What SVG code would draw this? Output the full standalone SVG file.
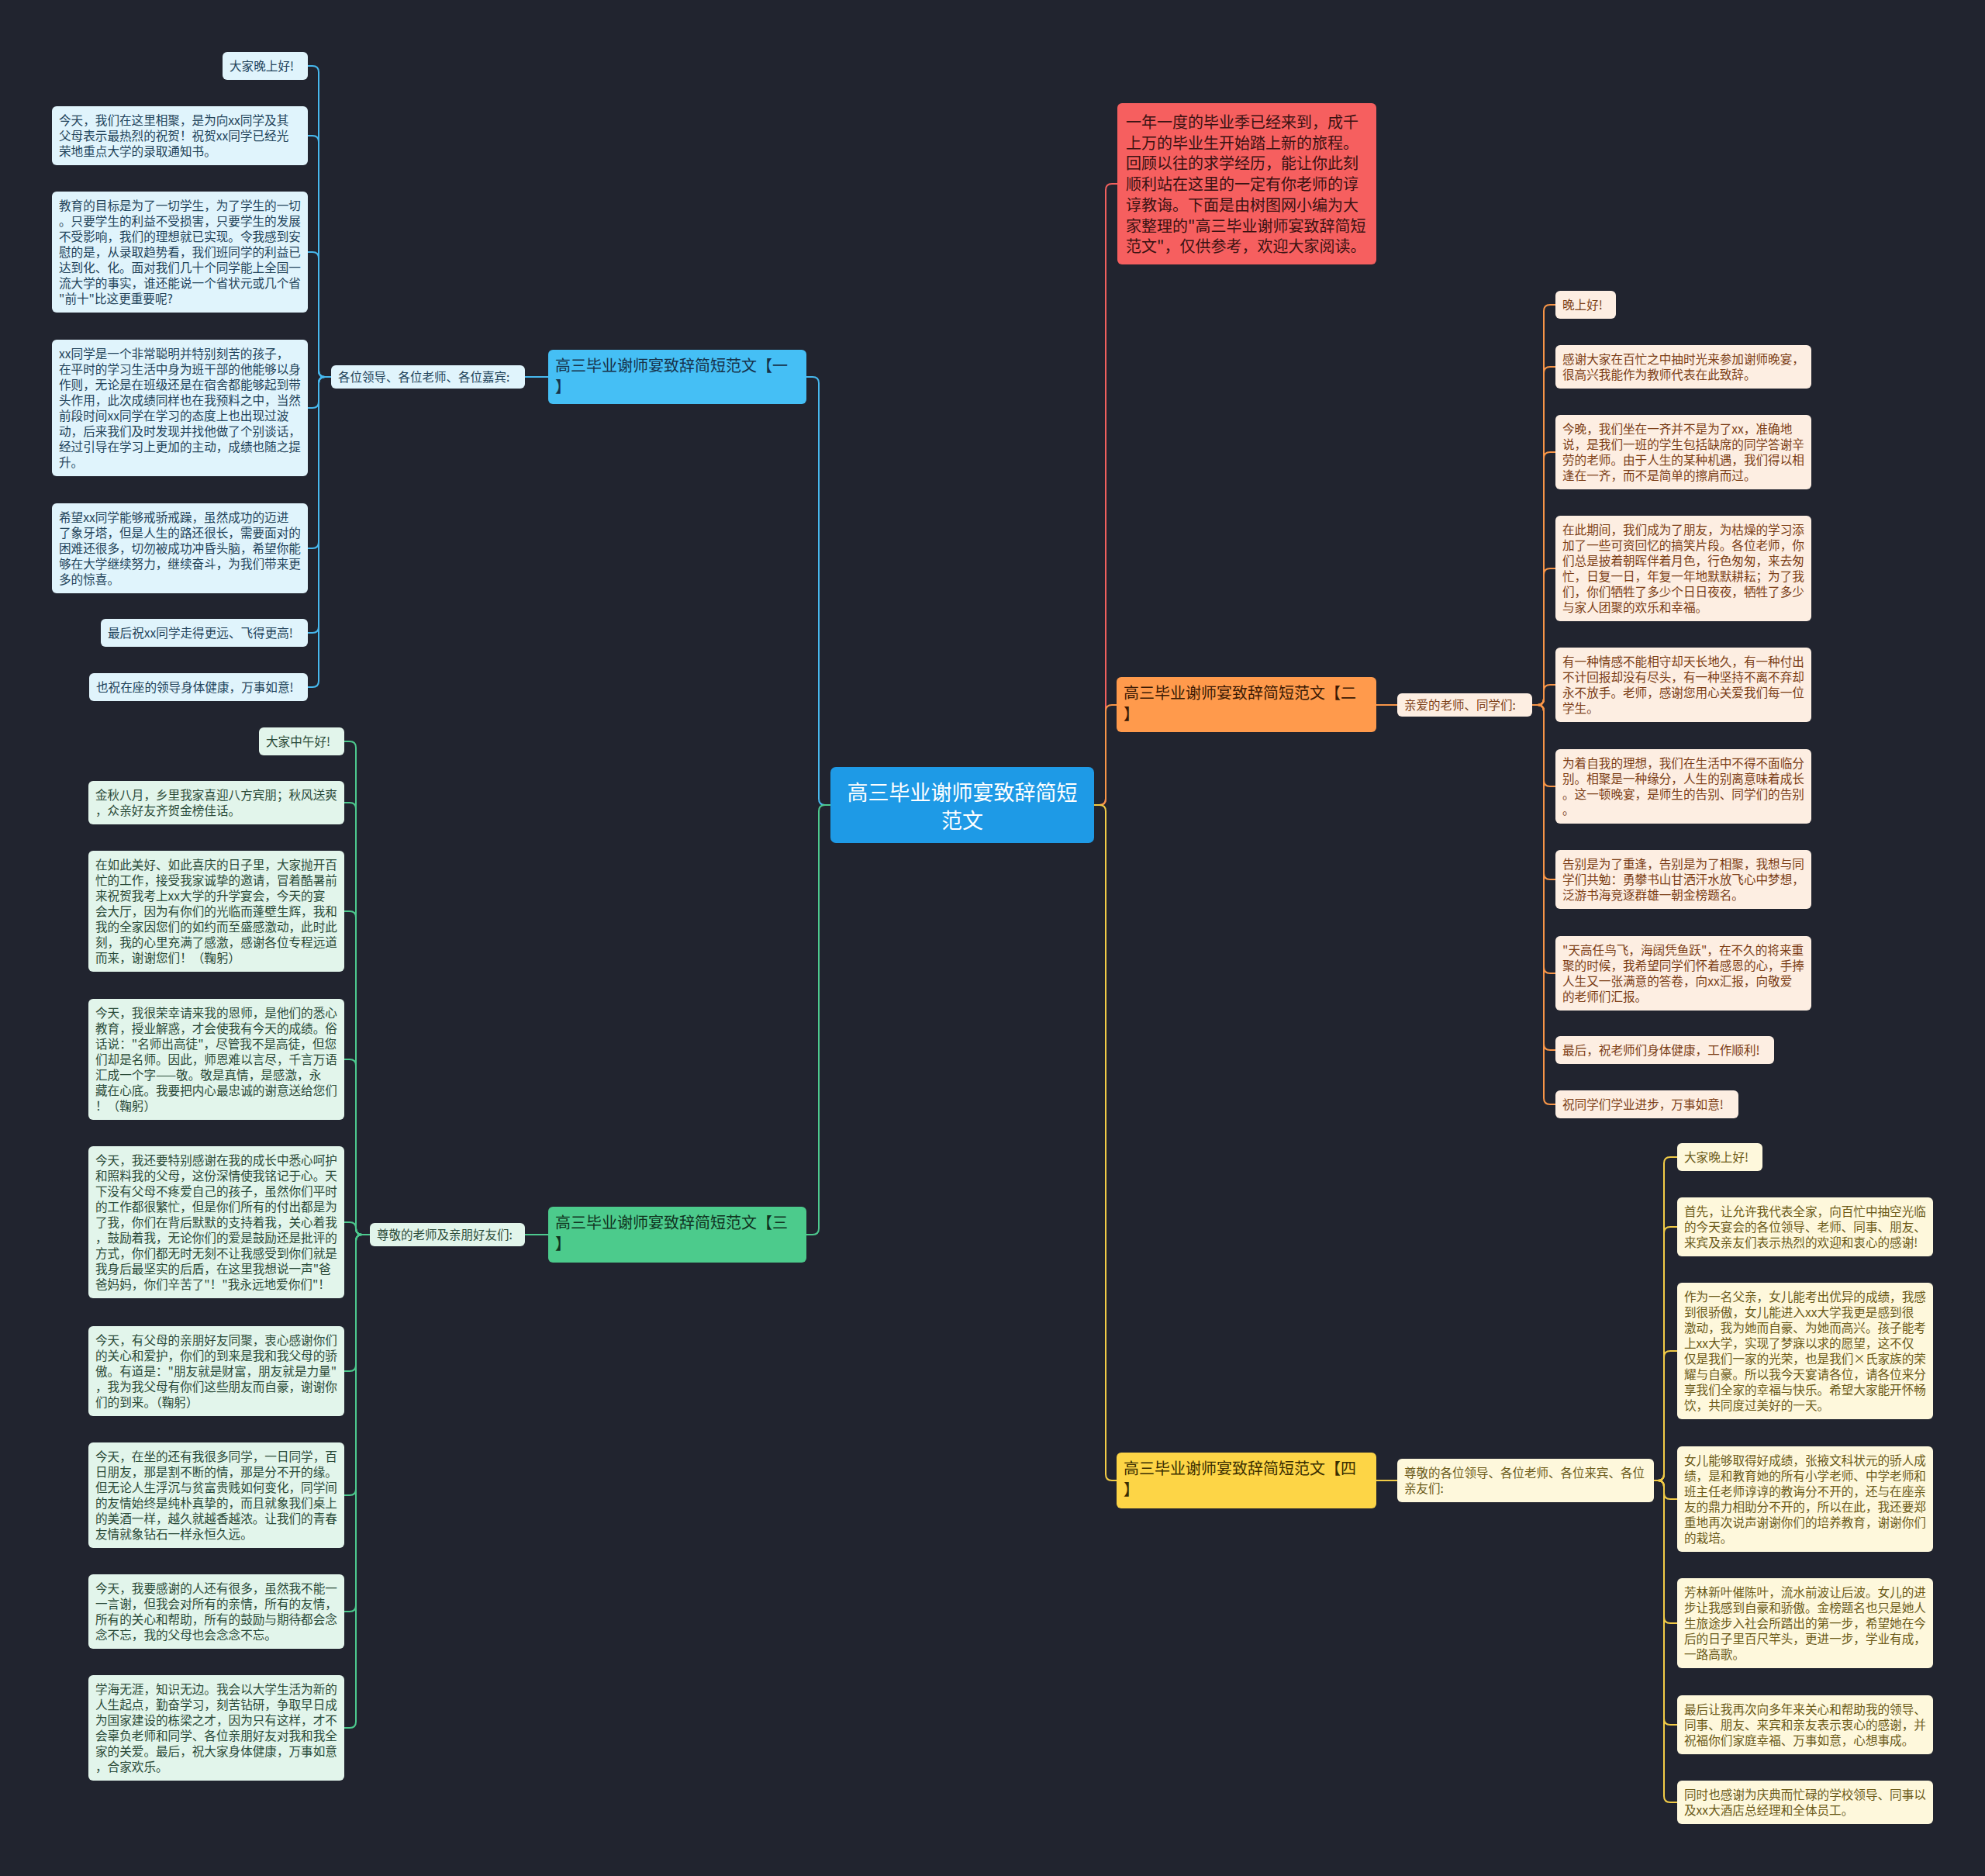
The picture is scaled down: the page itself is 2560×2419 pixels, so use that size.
<svg xmlns="http://www.w3.org/2000/svg" width="2560" height="2419" viewBox="0 0 2560 2419">
<style>
text{font-family:"Noto Sans CJK SC","Liberation Sans",sans-serif}
.lf{font-size:15.6px}
.lb{font-size:15.5px}
.bn{font-size:20px}
.cB{stroke:#47b8ee}.cG{stroke:#4dc98e}.cO{stroke:#f79548}.cY{stroke:#f2cc47}.cR{stroke:#f0605e}
path{fill:none;stroke-width:2}
.fB{fill:#e0f4fc}.tB{fill:#22435a}
.fG{fill:#e2f5eb}.tG{fill:#2a4a38}
.fO{fill:#fdeee2}.tO{fill:#7b3d15}
.fY{fill:#fef8dc}.tY{fill:#6b5a18}
</style>
<rect width="2560" height="2419" fill="#21242f"/>
<g id="connectors">
<path class="cB" d="M1071,1038 H1064 Q1056,1038 1056,1030 V494 Q1056,486 1048,486 H1040"/>
<path class="cG" d="M1071,1038 H1064 Q1056,1038 1056,1046 V1584 Q1056,1592 1048,1592 H1040"/>
<path class="cR" d="M1411,1038 H1418 Q1426,1038 1426,1030 V245 Q1426,237 1434,237 H1441"/>
<path class="cO" d="M1411,1038 H1418 Q1426,1038 1426,1030 V917 Q1426,909 1434,909 H1440"/>
<path class="cY" d="M1411,1038 H1418 Q1426,1038 1426,1046 V1901 Q1426,1909 1434,1909 H1440"/>
<path class="cB" d="M707,486 H677"/>
<path class="cG" d="M707,1592 H677"/>
<path class="cO" d="M1775,909 H1802"/>
<path class="cY" d="M1775,1909 H1802"/>
<path class="cB" d="M427,486 H419 Q411,486 411,478 V93 Q411,85 403,85 H397"/>
<path class="cB" d="M427,486 H419 Q411,486 411,478 V183 Q411,175 403,175 H397"/>
<path class="cB" d="M427,486 H419 Q411,486 411,478 V333 Q411,325 403,325 H397"/>
<path class="cB" d="M427,486 H419 Q411,486 411,494 V518 Q411,526 403,526 H397"/>
<path class="cB" d="M427,486 H419 Q411,486 411,494 V699 Q411,707 403,707 H397"/>
<path class="cB" d="M427,486 H419 Q411,486 411,494 V808 Q411,816 403,816 H397"/>
<path class="cB" d="M427,486 H419 Q411,486 411,494 V878 Q411,886 403,886 H397"/>
<path class="cG" d="M477,1592 H467 Q459,1592 459,1584 V964 Q459,956 451,956 H444"/>
<path class="cG" d="M477,1592 H467 Q459,1592 459,1584 V1043 Q459,1035 451,1035 H444"/>
<path class="cG" d="M477,1592 H467 Q459,1592 459,1584 V1183 Q459,1175 451,1175 H444"/>
<path class="cG" d="M477,1592 H467 Q459,1592 459,1584 V1374 Q459,1366 451,1366 H444"/>
<path class="cG" d="M477,1592 H467 Q459,1592 459,1584 Q459,1576 451,1576 H444"/>
<path class="cG" d="M477,1592 H467 Q459,1592 459,1600 V1760 Q459,1768 451,1768 H444"/>
<path class="cG" d="M477,1592 H467 Q459,1592 459,1600 V1920 Q459,1928 451,1928 H444"/>
<path class="cG" d="M477,1592 H467 Q459,1592 459,1600 V2070 Q459,2078 451,2078 H444"/>
<path class="cG" d="M477,1592 H467 Q459,1592 459,1600 V2220 Q459,2228 451,2228 H444"/>
<path class="cO" d="M1976,909 H1983 Q1991,909 1991,901 V401 Q1991,393 1999,393 H2006"/>
<path class="cO" d="M1976,909 H1983 Q1991,909 1991,901 V481 Q1991,473 1999,473 H2006"/>
<path class="cO" d="M1976,909 H1983 Q1991,909 1991,901 V591 Q1991,583 1999,583 H2006"/>
<path class="cO" d="M1976,909 H1983 Q1991,909 1991,901 V741 Q1991,733 1999,733 H2006"/>
<path class="cO" d="M1976,909 H1983 Q1991,909 1991,901 V891 Q1991,883 1999,883 H2006"/>
<path class="cO" d="M1976,909 H1983 Q1991,909 1991,917 V1006 Q1991,1014 1999,1014 H2006"/>
<path class="cO" d="M1976,909 H1983 Q1991,909 1991,917 V1126 Q1991,1134 1999,1134 H2006"/>
<path class="cO" d="M1976,909 H1983 Q1991,909 1991,917 V1247 Q1991,1255 1999,1255 H2006"/>
<path class="cO" d="M1976,909 H1983 Q1991,909 1991,917 V1346 Q1991,1354 1999,1354 H2006"/>
<path class="cO" d="M1976,909 H1983 Q1991,909 1991,917 V1416 Q1991,1424 1999,1424 H2006"/>
<path class="cY" d="M2133,1909 H2138 Q2146,1909 2146,1901 V1500 Q2146,1492 2154,1492 H2163"/>
<path class="cY" d="M2133,1909 H2138 Q2146,1909 2146,1901 V1590 Q2146,1582 2154,1582 H2163"/>
<path class="cY" d="M2133,1909 H2138 Q2146,1909 2146,1901 V1750 Q2146,1742 2154,1742 H2163"/>
<path class="cY" d="M2133,1909 H2138 Q2146,1909 2146,1917 V1925 Q2146,1933 2154,1933 H2163"/>
<path class="cY" d="M2133,1909 H2138 Q2146,1909 2146,1917 V2085 Q2146,2093 2154,2093 H2163"/>
<path class="cY" d="M2133,1909 H2138 Q2146,1909 2146,1917 V2216 Q2146,2224 2154,2224 H2163"/>
<path class="cY" d="M2133,1909 H2138 Q2146,1909 2146,1917 V2316 Q2146,2324 2154,2324 H2163"/>
</g>

<g id="center">
<rect x="1071" y="989" width="340" height="98" rx="7" fill="#1e9ae6"/>
<text x="1241" y="1031.5" font-size="27" fill="#ffffff" text-anchor="middle">高三毕业谢师宴致辞简短</text>
<text x="1241" y="1067.5" font-size="27" fill="#ffffff" text-anchor="middle">范文</text>
</g>

<g id="intro">
<rect x="1441" y="133" width="334" height="208" rx="6" fill="#f65f5f"/>
<text class="bn" fill="#3a1212"><tspan x="1452" y="165">一年一度的毕业季已经来到，成千</tspan><tspan x="1452" y="191.7">上万的毕业生开始踏上新的旅程。</tspan><tspan x="1452" y="218.4">回顾以往的求学经历，能让你此刻</tspan><tspan x="1452" y="245.1">顺利站在这里的一定有你老师的谆</tspan><tspan x="1452" y="271.8">谆教诲。下面是由树图网小编为大</tspan><tspan x="1452" y="298.5">家整理的"高三毕业谢师宴致辞简短</tspan><tspan x="1452" y="325.2">范文"，仅供参考，欢迎大家阅读。</tspan></text>
</g>

<g id="branch1">
<rect x="707" y="451" width="333" height="70" rx="6" fill="#45bff5"/>
<text class="bn" fill="#16324a"><tspan x="716" y="479">高三毕业谢师宴致辞简短范文【一</tspan><tspan x="716" y="506">】</tspan></text>
</g>
<g id="label1">
<rect x="427" y="471" width="250" height="30" rx="6" class="fB"/>
<text class="lb tB" x="436" y="491.5">各位领导、各位老师、各位嘉宾:</text>
</g>
<g id="b1-leaf1"><rect x="287" y="67" width="110" height="36" rx="6" class="fB"/><text class="lf tB" x="296" y="90.5">大家晚上好!</text></g>
<g id="b1-leaf2"><rect x="67" y="137" width="330" height="76" rx="6" class="fB"/><text class="lf tB"><tspan x="76" y="160.5">今天，我们在这里相聚，是为向xx同学及其</tspan><tspan x="76" y="180.5">父母表示最热烈的祝贺！祝贺xx同学已经光</tspan><tspan x="76" y="200.5">荣地重点大学的录取通知书。</tspan></text></g>
<g id="b1-leaf3"><rect x="67" y="247" width="330" height="156" rx="6" class="fB"/><text class="lf tB"><tspan x="76" y="270.5">教育的目标是为了一切学生，为了学生的一切</tspan><tspan x="76" y="290.5">。只要学生的利益不受损害，只要学生的发展</tspan><tspan x="76" y="310.5">不受影响，我们的理想就已实现。令我感到安</tspan><tspan x="76" y="330.5">慰的是，从录取趋势看，我们班同学的利益已</tspan><tspan x="76" y="350.5">达到化、化。面对我们几十个同学能上全国一</tspan><tspan x="76" y="370.5">流大学的事实，谁还能说一个省状元或几个省</tspan><tspan x="76" y="390.5">"前十"比这更重要呢?</tspan></text></g>
<g id="b1-leaf4"><rect x="67" y="438" width="330" height="176" rx="6" class="fB"/><text class="lf tB"><tspan x="76" y="461.5">xx同学是一个非常聪明并特别刻苦的孩子，</tspan><tspan x="76" y="481.5">在平时的学习生活中身为班干部的他能够以身</tspan><tspan x="76" y="501.5">作则，无论是在班级还是在宿舍都能够起到带</tspan><tspan x="76" y="521.5">头作用，此次成绩同样也在我预料之中，当然</tspan><tspan x="76" y="541.5">前段时间xx同学在学习的态度上也出现过波</tspan><tspan x="76" y="561.5">动，后来我们及时发现并找他做了个别谈话，</tspan><tspan x="76" y="581.5">经过引导在学习上更加的主动，成绩也随之提</tspan><tspan x="76" y="601.5">升。</tspan></text></g>
<g id="b1-leaf5"><rect x="67" y="649" width="330" height="116" rx="6" class="fB"/><text class="lf tB"><tspan x="76" y="672.5">希望xx同学能够戒骄戒躁，虽然成功的迈进</tspan><tspan x="76" y="692.5">了象牙塔，但是人生的路还很长，需要面对的</tspan><tspan x="76" y="712.5">困难还很多，切勿被成功冲昏头脑，希望你能</tspan><tspan x="76" y="732.5">够在大学继续努力，继续奋斗，为我们带来更</tspan><tspan x="76" y="752.5">多的惊喜。</tspan></text></g>
<g id="b1-leaf6"><rect x="130" y="798" width="267" height="36" rx="6" class="fB"/><text class="lf tB" x="139" y="821.5">最后祝xx同学走得更远、飞得更高!</text></g>
<g id="b1-leaf7"><rect x="115" y="868" width="282" height="36" rx="6" class="fB"/><text class="lf tB" x="124" y="891.5">也祝在座的领导身体健康，万事如意!</text></g>

<g id="branch3">
<rect x="707" y="1556" width="333" height="72" rx="6" fill="#4ccb8c"/>
<text class="bn" fill="#10331f"><tspan x="716" y="1584">高三毕业谢师宴致辞简短范文【三</tspan><tspan x="716" y="1611">】</tspan></text>
</g>
<g id="label3">
<rect x="477" y="1577" width="200" height="30" rx="6" class="fG"/>
<text class="lb tG" x="486" y="1597.5">尊敬的老师及亲朋好友们:</text>
</g>
<g id="b3-leaf1"><rect x="334" y="938" width="110" height="36" rx="6" class="fG"/><text class="lf tG" x="343" y="961.5">大家中午好!</text></g>
<g id="b3-leaf2"><rect x="114" y="1007" width="330" height="56" rx="6" class="fG"/><text class="lf tG"><tspan x="123" y="1030.5">金秋八月，乡里我家喜迎八方宾朋；秋风送爽</tspan><tspan x="123" y="1050.5">，众亲好友齐贺金榜佳话。</tspan></text></g>
<g id="b3-leaf3"><rect x="114" y="1097" width="330" height="156" rx="6" class="fG"/><text class="lf tG"><tspan x="123" y="1120.5">在如此美好、如此喜庆的日子里，大家抛开百</tspan><tspan x="123" y="1140.5">忙的工作，接受我家诚挚的邀请，冒着酷暑前</tspan><tspan x="123" y="1160.5">来祝贺我考上xx大学的升学宴会，今天的宴</tspan><tspan x="123" y="1180.5">会大厅，因为有你们的光临而蓬壁生辉，我和</tspan><tspan x="123" y="1200.5">我的全家因您们的如约而至盛感激动，此时此</tspan><tspan x="123" y="1220.5">刻，我的心里充满了感激，感谢各位专程远道</tspan><tspan x="123" y="1240.5">而来，谢谢您们！（鞠躬）</tspan></text></g>
<g id="b3-leaf4"><rect x="114" y="1288" width="330" height="156" rx="6" class="fG"/><text class="lf tG"><tspan x="123" y="1311.5">今天，我很荣幸请来我的恩师，是他们的悉心</tspan><tspan x="123" y="1331.5">教育，授业解惑，才会使我有今天的成绩。俗</tspan><tspan x="123" y="1351.5">话说："名师出高徒"，尽管我不是高徒，但您</tspan><tspan x="123" y="1371.5">们却是名师。因此，师恩难以言尽，千言万语</tspan><tspan x="123" y="1391.5">汇成一个字——敬。敬是真情，是感激，永</tspan><tspan x="123" y="1411.5">藏在心底。我要把内心最忠诚的谢意送给您们</tspan><tspan x="123" y="1431.5">！（鞠躬）</tspan></text></g>
<g id="b3-leaf5"><rect x="114" y="1478" width="330" height="196" rx="6" class="fG"/><text class="lf tG"><tspan x="123" y="1501.5">今天，我还要特别感谢在我的成长中悉心呵护</tspan><tspan x="123" y="1521.5">和照料我的父母，这份深情使我铭记于心。天</tspan><tspan x="123" y="1541.5">下没有父母不疼爱自己的孩子，虽然你们平时</tspan><tspan x="123" y="1561.5">的工作都很繁忙，但是你们所有的付出都是为</tspan><tspan x="123" y="1581.5">了我，你们在背后默默的支持着我，关心着我</tspan><tspan x="123" y="1601.5">，鼓励着我，无论你们的爱是鼓励还是批评的</tspan><tspan x="123" y="1621.5">方式，你们都无时无刻不让我感受到你们就是</tspan><tspan x="123" y="1641.5">我身后最坚实的后盾，在这里我想说一声"爸</tspan><tspan x="123" y="1661.5">爸妈妈，你们辛苦了"！"我永远地爱你们"！</tspan></text></g>
<g id="b3-leaf6"><rect x="114" y="1710" width="330" height="116" rx="6" class="fG"/><text class="lf tG"><tspan x="123" y="1733.5">今天，有父母的亲朋好友同聚，衷心感谢你们</tspan><tspan x="123" y="1753.5">的关心和爱护，你们的到来是我和我父母的骄</tspan><tspan x="123" y="1773.5">傲。有道是："朋友就是财富，朋友就是力量"</tspan><tspan x="123" y="1793.5">，我为我父母有你们这些朋友而自豪，谢谢你</tspan><tspan x="123" y="1813.5">们的到来。（鞠躬）</tspan></text></g>
<g id="b3-leaf7"><rect x="114" y="1860" width="330" height="136" rx="6" class="fG"/><text class="lf tG"><tspan x="123" y="1883.5">今天，在坐的还有我很多同学，一日同学，百</tspan><tspan x="123" y="1903.5">日朋友，那是割不断的情，那是分不开的缘。</tspan><tspan x="123" y="1923.5">但无论人生浮沉与贫富贵贱如何变化，同学间</tspan><tspan x="123" y="1943.5">的友情始终是纯朴真挚的，而且就象我们桌上</tspan><tspan x="123" y="1963.5">的美酒一样，越久就越香越浓。让我们的青春</tspan><tspan x="123" y="1983.5">友情就象钻石一样永恒久远。</tspan></text></g>
<g id="b3-leaf8"><rect x="114" y="2030" width="330" height="96" rx="6" class="fG"/><text class="lf tG"><tspan x="123" y="2053.5">今天，我要感谢的人还有很多，虽然我不能一</tspan><tspan x="123" y="2073.5">一言谢，但我会对所有的亲情，所有的友情，</tspan><tspan x="123" y="2093.5">所有的关心和帮助，所有的鼓励与期待都会念</tspan><tspan x="123" y="2113.5">念不忘，我的父母也会念念不忘。</tspan></text></g>
<g id="b3-leaf9"><rect x="114" y="2160" width="330" height="136" rx="6" class="fG"/><text class="lf tG"><tspan x="123" y="2183.5">学海无涯，知识无边。我会以大学生活为新的</tspan><tspan x="123" y="2203.5">人生起点，勤奋学习，刻苦钻研，争取早日成</tspan><tspan x="123" y="2223.5">为国家建设的栋梁之才，因为只有这样，才不</tspan><tspan x="123" y="2243.5">会辜负老师和同学、各位亲朋好友对我和我全</tspan><tspan x="123" y="2263.5">家的关爱。最后，祝大家身体健康，万事如意</tspan><tspan x="123" y="2283.5">，合家欢乐。</tspan></text></g>

<g id="branch2">
<rect x="1440" y="873" width="335" height="71" rx="6" fill="#ff9a4c"/>
<text class="bn" fill="#3b1a04"><tspan x="1449" y="901">高三毕业谢师宴致辞简短范文【二</tspan><tspan x="1449" y="928">】</tspan></text>
</g>
<g id="label2">
<rect x="1802" y="894" width="174" height="30" rx="6" class="fO"/>
<text class="lb tO" x="1811" y="914.5">亲爱的老师、同学们:</text>
</g>
<g id="b2-leaf1"><rect x="2006" y="375" width="78" height="36" rx="6" class="fO"/><text class="lf tO" x="2015" y="398.5">晚上好!</text></g>
<g id="b2-leaf2"><rect x="2006" y="445" width="330" height="56" rx="6" class="fO"/><text class="lf tO"><tspan x="2015" y="468.5">感谢大家在百忙之中抽时光来参加谢师晚宴，</tspan><tspan x="2015" y="488.5">很高兴我能作为教师代表在此致辞。</tspan></text></g>
<g id="b2-leaf3"><rect x="2006" y="535" width="330" height="96" rx="6" class="fO"/><text class="lf tO"><tspan x="2015" y="558.5">今晚，我们坐在一齐并不是为了xx，准确地</tspan><tspan x="2015" y="578.5">说，是我们一班的学生包括缺席的同学答谢辛</tspan><tspan x="2015" y="598.5">劳的老师。由于人生的某种机遇，我们得以相</tspan><tspan x="2015" y="618.5">逢在一齐，而不是简单的擦肩而过。</tspan></text></g>
<g id="b2-leaf4"><rect x="2006" y="665" width="330" height="136" rx="6" class="fO"/><text class="lf tO"><tspan x="2015" y="688.5">在此期间，我们成为了朋友，为枯燥的学习添</tspan><tspan x="2015" y="708.5">加了一些可资回忆的搞笑片段。各位老师，你</tspan><tspan x="2015" y="728.5">们总是披着朝晖伴着月色，行色匆匆，来去匆</tspan><tspan x="2015" y="748.5">忙，日复一日，年复一年地默默耕耘；为了我</tspan><tspan x="2015" y="768.5">们，你们牺牲了多少个日日夜夜，牺牲了多少</tspan><tspan x="2015" y="788.5">与家人团聚的欢乐和幸福。</tspan></text></g>
<g id="b2-leaf5"><rect x="2006" y="835" width="330" height="96" rx="6" class="fO"/><text class="lf tO"><tspan x="2015" y="858.5">有一种情感不能相守却天长地久，有一种付出</tspan><tspan x="2015" y="878.5">不计回报却没有尽头，有一种坚持不离不弃却</tspan><tspan x="2015" y="898.5">永不放手。老师，感谢您用心关爱我们每一位</tspan><tspan x="2015" y="918.5">学生。</tspan></text></g>
<g id="b2-leaf6"><rect x="2006" y="966" width="330" height="96" rx="6" class="fO"/><text class="lf tO"><tspan x="2015" y="989.5">为着自我的理想，我们在生活中不得不面临分</tspan><tspan x="2015" y="1009.5">别。相聚是一种缘分，人生的别离意味着成长</tspan><tspan x="2015" y="1029.5">。这一顿晚宴，是师生的告别、同学们的告别</tspan><tspan x="2015" y="1049.5">。</tspan></text></g>
<g id="b2-leaf7"><rect x="2006" y="1096" width="330" height="76" rx="6" class="fO"/><text class="lf tO"><tspan x="2015" y="1119.5">告别是为了重逢，告别是为了相聚，我想与同</tspan><tspan x="2015" y="1139.5">学们共勉：勇攀书山甘洒汗水放飞心中梦想，</tspan><tspan x="2015" y="1159.5">泛游书海竞逐群雄一朝金榜题名。</tspan></text></g>
<g id="b2-leaf8"><rect x="2006" y="1207" width="330" height="96" rx="6" class="fO"/><text class="lf tO"><tspan x="2015" y="1230.5">"天高任鸟飞，海阔凭鱼跃"，在不久的将来重</tspan><tspan x="2015" y="1250.5">聚的时候，我希望同学们怀着感恩的心，手捧</tspan><tspan x="2015" y="1270.5">人生又一张满意的答卷，向xx汇报，向敬爱</tspan><tspan x="2015" y="1290.5">的老师们汇报。</tspan></text></g>
<g id="b2-leaf9"><rect x="2006" y="1336" width="282" height="36" rx="6" class="fO"/><text class="lf tO" x="2015" y="1359.5">最后，祝老师们身体健康，工作顺利!</text></g>
<g id="b2-leaf10"><rect x="2006" y="1406" width="236" height="36" rx="6" class="fO"/><text class="lf tO" x="2015" y="1429.5">祝同学们学业进步，万事如意!</text></g>

<g id="branch4">
<rect x="1440" y="1873" width="335" height="72" rx="6" fill="#fdd546"/>
<text class="bn" fill="#3a2e00"><tspan x="1449" y="1901">高三毕业谢师宴致辞简短范文【四</tspan><tspan x="1449" y="1928">】</tspan></text>
</g>
<g id="label4">
<rect x="1802" y="1881" width="331" height="56" rx="6" class="fY"/>
<text class="lb tY"><tspan x="1811" y="1904.5">尊敬的各位领导、各位老师、各位来宾、各位</tspan><tspan x="1811" y="1924.5">亲友们:</tspan></text>
</g>
<g id="b4-leaf1"><rect x="2163" y="1474" width="110" height="36" rx="6" class="fY"/><text class="lf tY" x="2172" y="1497.5">大家晚上好!</text></g>
<g id="b4-leaf2"><rect x="2163" y="1544" width="330" height="76" rx="6" class="fY"/><text class="lf tY"><tspan x="2172" y="1567.5">首先，让允许我代表全家，向百忙中抽空光临</tspan><tspan x="2172" y="1587.5">的今天宴会的各位领导、老师、同事、朋友、</tspan><tspan x="2172" y="1607.5">来宾及亲友们表示热烈的欢迎和衷心的感谢!</tspan></text></g>
<g id="b4-leaf3"><rect x="2163" y="1654" width="330" height="176" rx="6" class="fY"/><text class="lf tY"><tspan x="2172" y="1677.5">作为一名父亲，女儿能考出优异的成绩，我感</tspan><tspan x="2172" y="1697.5">到很骄傲，女儿能进入xx大学我更是感到很</tspan><tspan x="2172" y="1717.5">激动，我为她而自豪、为她而高兴。孩子能考</tspan><tspan x="2172" y="1737.5">上xx大学，实现了梦寐以求的愿望，这不仅</tspan><tspan x="2172" y="1757.5">仅是我们一家的光荣，也是我们×氏家族的荣</tspan><tspan x="2172" y="1777.5">耀与自豪。所以我今天宴请各位，请各位来分</tspan><tspan x="2172" y="1797.5">享我们全家的幸福与快乐。希望大家能开怀畅</tspan><tspan x="2172" y="1817.5">饮，共同度过美好的一天。</tspan></text></g>
<g id="b4-leaf4"><rect x="2163" y="1865" width="330" height="136" rx="6" class="fY"/><text class="lf tY"><tspan x="2172" y="1888.5">女儿能够取得好成绩，张掖文科状元的骄人成</tspan><tspan x="2172" y="1908.5">绩，是和教育她的所有小学老师、中学老师和</tspan><tspan x="2172" y="1928.5">班主任老师谆谆的教诲分不开的，还与在座亲</tspan><tspan x="2172" y="1948.5">友的鼎力相助分不开的，所以在此，我还要郑</tspan><tspan x="2172" y="1968.5">重地再次说声谢谢你们的培养教育，谢谢你们</tspan><tspan x="2172" y="1988.5">的栽培。</tspan></text></g>
<g id="b4-leaf5"><rect x="2163" y="2035" width="330" height="116" rx="6" class="fY"/><text class="lf tY"><tspan x="2172" y="2058.5">芳林新叶催陈叶，流水前波让后波。女儿的进</tspan><tspan x="2172" y="2078.5">步让我感到自豪和骄傲。金榜题名也只是她人</tspan><tspan x="2172" y="2098.5">生旅途步入社会所踏出的第一步，希望她在今</tspan><tspan x="2172" y="2118.5">后的日子里百尺竿头，更进一步，学业有成，</tspan><tspan x="2172" y="2138.5">一路高歌。</tspan></text></g>
<g id="b4-leaf6"><rect x="2163" y="2186" width="330" height="76" rx="6" class="fY"/><text class="lf tY"><tspan x="2172" y="2209.5">最后让我再次向多年来关心和帮助我的领导、</tspan><tspan x="2172" y="2229.5">同事、朋友、来宾和亲友表示衷心的感谢，并</tspan><tspan x="2172" y="2249.5">祝福你们家庭幸福、万事如意，心想事成。</tspan></text></g>
<g id="b4-leaf7"><rect x="2163" y="2296" width="330" height="56" rx="6" class="fY"/><text class="lf tY"><tspan x="2172" y="2319.5">同时也感谢为庆典而忙碌的学校领导、同事以</tspan><tspan x="2172" y="2339.5">及xx大酒店总经理和全体员工。</tspan></text></g>
</svg>
